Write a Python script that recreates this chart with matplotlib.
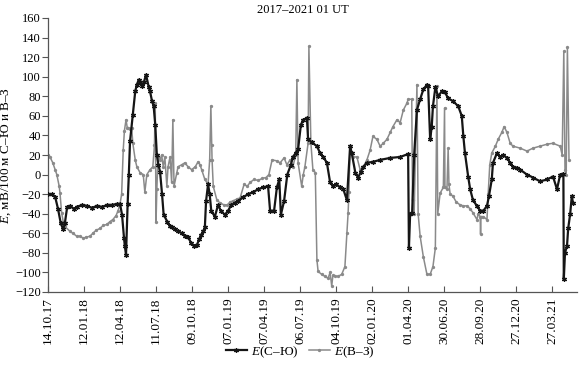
import matplotlib
matplotlib.use("Agg")
import matplotlib.pyplot as plt
import numpy as np
import datetime as dt

# days since 14.10.2017, values in mV/100 m
day_sn = [0,10,18,25,32,38,42,48,55,65,72,85,98,110,122,135,148,160,172,180,185,190,192,195,199,202,205,212,218,222,227,230,235,240,245,252,255,260,264,268,272,276,280,285,289,298,305,310,318,325,335,342,350,358,365,372,378,382,388,392,395,400,404,408,417,425,432,442,450,458,468,475,488,500,512,525,538,550,555,565,572,578,582,590,598,607,612,619,625,632,638,647,650,659,672,680,688,697,705,712,720,730,738,747,755,759,768,775,782,788,797,812,830,855,880,900,902,905,910,915,922,930,938,947,950,955,959,962,968,975,984,992,1000,1012,1025,1034,1038,1042,1050,1055,1062,1072,1080,1088,1097,1102,1109,1112,1122,1130,1138,1147,1155,1162,1172,1180,1197,1212,1230,1247,1262,1272,1280,1288,1289,1292,1297,1300,1305,1309,1312]
e_sn = [-20,-20,-23,-35,-50,-56,-50,-33,-32,-35,-33,-31,-32,-34,-32,-33,-31,-31,-30,-30,-41,-65,-73,-82,-30,0,34,61,85,92,97,95,90,95,102,89,85,75,70,51,20,10,3,-20,-41,-48,-53,-54,-56,-58,-60,-63,-64,-70,-73,-72,-66,-62,-58,-54,-27,-10,-20,-37,-43,-31,-37,-41,-37,-31,-29,-27,-23,-20,-18,-15,-13,-12,-37,-37,-13,-5,-41,-27,0,10,18,22,26,51,56,58,36,33,29,22,18,12,-8,-12,-10,-13,-15,-26,29,22,2,-3,3,8,12,13,15,17,18,21,-75,-40,-39,20,66,77,87,92,90,36,49,70,89,80,85,84,78,75,70,60,39,22,-2,-15,-26,-32,-37,-37,-32,-22,-5,12,22,18,20,17,12,8,7,5,0,-3,-7,-5,-2,-15,0,1,-107,-80,-73,-55,-40,-22,-29]

day_ew = [0,5,12,18,22,28,30,34,38,42,55,62,72,80,88,95,105,112,120,130,138,147,155,162,170,175,180,184,188,191,195,198,201,205,209,212,218,222,230,238,242,247,255,262,266,268,270,272,275,280,284,288,292,297,300,305,309,312,315,322,325,334,342,350,359,368,375,380,384,392,400,404,407,409,410,413,422,430,440,448,455,462,472,480,490,498,505,515,525,535,545,552,560,572,580,590,597,605,612,619,622,625,634,638,642,650,652,657,662,668,672,675,684,692,700,705,709,712,718,725,734,742,747,750,752,755,762,772,780,788,797,805,812,822,830,838,847,855,862,872,880,888,897,900,909,911,915,922,925,930,938,947,955,962,968,972,974,980,988,991,992,997,1000,1002,1005,1012,1020,1030,1038,1047,1055,1062,1072,1075,1080,1081,1082,1088,1097,1100,1104,1109,1118,1125,1134,1140,1147,1155,1162,1180,1197,1212,1230,1247,1262,1280,1285,1289,1292,1295,1298,1302]
e_ew = [20,18,12,5,0,-12,-19,-39,-48,-53,-58,-60,-63,-63,-65,-64,-63,-60,-57,-55,-52,-51,-48,-46,-42,-37,-30,-20,25,45,56,48,48,47,48,32,15,8,2,0,-18,0,5,8,30,73,-48,-15,18,15,20,8,18,-12,8,18,-8,56,-12,2,8,10,12,8,5,8,13,10,5,-5,-10,15,70,30,15,-12,-26,-29,-31,-31,-28,-27,-25,-24,-10,-12,-8,-5,-6,-4,-3,0,15,14,12,17,10,15,8,20,97,12,-12,0,8,32,131,32,5,2,-87,-99,-102,-104,-106,-100,-114,-103,-104,-104,-102,-94,-60,-39,-18,29,18,18,5,8,15,25,39,36,29,32,36,43,49,56,53,66,73,77,77,-26,-40,92,-40,-63,-84,-102,-102,-94,-75,90,-40,-19,-13,68,-13,-15,27,-10,-20,-22,-28,-31,-32,-32,-35,-39,-46,-40,-43,-61,-43,-43,-46,-20,10,22,29,36,43,49,43,32,29,27,24,27,29,31,32,29,20,126,5,0,130,15]

start_date = dt.date(2017, 10, 14)
tick_step_days = 90
n_ticks = 15
axis_end_days = 1322

title = "2017\u20132021 01 UT"
ylabel = "$E$, мВ/100 м С\u2013Ю и В\u2013З"
label_sn = "$E$(С\u2013Ю)"
label_ew = "$E$(В\u2013З)"

plt.rcParams['font.family'] = ['Liberation Serif', 'DejaVu Serif']
plt.rcParams['mathtext.fontset'] = 'custom'
plt.rcParams['mathtext.it'] = 'Liberation Serif:italic'
plt.rcParams['mathtext.rm'] = 'Liberation Serif'

def to_dates(days):
    return [start_date + dt.timedelta(days=int(d)) for d in days]

fig = plt.figure(figsize=(5.79, 3.69), dpi=100)
ax = fig.add_axes([48/579, 1-292/369, (577-48)/579, (292-18)/369])

ax.plot(to_dates(day_sn), e_sn, color='#151515', lw=1.6, marker=(6, 2, 0),
        ms=3.5, mew=0.9, label=label_sn, zorder=3)
ax.plot(to_dates(day_ew), e_ew, color='#8a8a8a', lw=1.1, marker='o',
        ms=2.4, mew=0, label=label_ew, zorder=2)

ax.set_ylim(-120, 160)
ax.set_yticks(np.arange(-120, 161, 20))
ax.set_yticklabels([f"{v}".replace('-', '\u2212') for v in range(-120, 161, 20)])
ax.set_xlim(start_date, start_date + dt.timedelta(days=axis_end_days))
ticks = [start_date + dt.timedelta(days=tick_step_days * i) for i in range(n_ticks)]
ax.set_xticks(ticks)
ax.set_xticklabels([t.strftime("%d.%m.%y") for t in ticks], rotation=90)

for s in ['top', 'right']:
    ax.spines[s].set_visible(False)
for s in ['left', 'bottom']:
    ax.spines[s].set_color('#555555')
    ax.spines[s].set_linewidth(0.9)
ax.tick_params(axis='y', direction='out', length=4, width=0.8, color='#555555', labelsize=9, pad=1)
ax.tick_params(axis='x', direction='in', length=4, width=0.8, color='#555555', labelsize=9.5, pad=4)

ax.set_ylabel(ylabel, fontsize=9.5, labelpad=2)
fig.text(303/579, 1-10/369, title, ha='center', va='center', fontsize=9)

leg = fig.legend(loc='center', bbox_to_anchor=(300/579, 1-352/369), ncol=2, frameon=False,
                 fontsize=9.5, handlelength=1.6, columnspacing=0.8, handletextpad=0.3)

fig.savefig("out.png", dpi=100)
